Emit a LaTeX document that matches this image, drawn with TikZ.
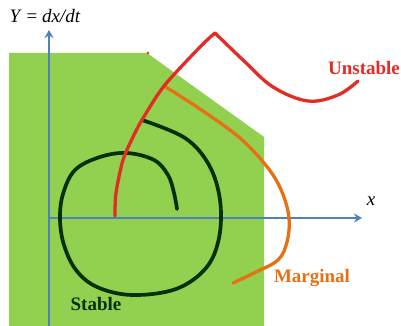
\documentclass[tikz,border=0pt]{standalone}
\usepackage{fontspec}
\setmainfont{Liberation Serif}
\usetikzlibrary{arrows.meta}
\definecolor{fieldgreen}{RGB}{146,208,80}
\definecolor{axisblue}{RGB}{79,129,189}
\definecolor{unstred}{RGB}{226,44,36}
\definecolor{margorange}{RGB}{230,112,20}
\definecolor{stabgreen}{RGB}{8,48,8}

\begin{document}
\begin{tikzpicture}[x=1pt, y=-1pt,
  axis/.style={axisblue, line width=2pt,
    -{Stealth[length=8pt, width=9pt]}},
  orbit/.style={line width=3.3pt, line cap=round},
  tag/.style={font=\fontsize{19}{22}\selectfont\bfseries},
  axlabel/.style={font=\fontsize{19}{22}\selectfont}
]
\useasboundingbox (0,0) rectangle (401,326);

% Region
\fill[fieldgreen] (9,53) -- (147,53) -- (264,137)
  -- (264,326) -- (9,326) -- cycle;
\fill[unstred] (148,53) circle (1.3);

% Axes
\coordinate (O) at (49,218);
\coordinate (ybot) at (49,326);
\draw[axis] (ybot) -- (49,30) coordinate (ytop);
\draw[axis, line width=1.6pt] (O) -- (362,218) coordinate (xtip);
\node[axlabel] (ylab) at (45,16) {\textit{Y} = \textit{dx/dt}};
\node[axlabel] (xlab) at (371,201) {\textit{x}};

% Stable spiral
\draw[orbit, stabgreen, line width=3.7pt] plot[smooth, tension=0.6] coordinates {
  (142,120) (185,138) (209,165) (220,200) (219,238) (206,268)
  (176,289) (132,295) (97,287) (76,270) (64,245) (60,219)
  (63,194) (75,170) (100,157) (127,153) (154,160) (168,175)
  (174,193) (177,209)};

% Marginal curve
\draw[orbit, margorange] plot[smooth, tension=0.6] coordinates {
  (164,86) (200,109) (240,138) (268,168) (282,192) (289,218)
  (287,242) (278,260) (256,272) (233,283)};

% Unstable curve
\draw[orbit, unstred] plot[smooth, tension=0.5] coordinates {
  (115,216) (116,193) (123,160) (133,137) (142,120)
  (164,86) (200,47) (215,33)};
\draw[orbit, unstred] plot[smooth, tension=0.6] coordinates {
  (215,33) (243,60) (273,87) (308,101) (338,95) (358,81)};

% Labels
\node[tag, unstred] (unst) at (364,68) {Unstable};
\node[tag, margorange] (marg) at (312,278) {Marginal};
\node[tag, stabgreen] (stab) at (96,304) {Stable};
\end{tikzpicture}
\end{document}
